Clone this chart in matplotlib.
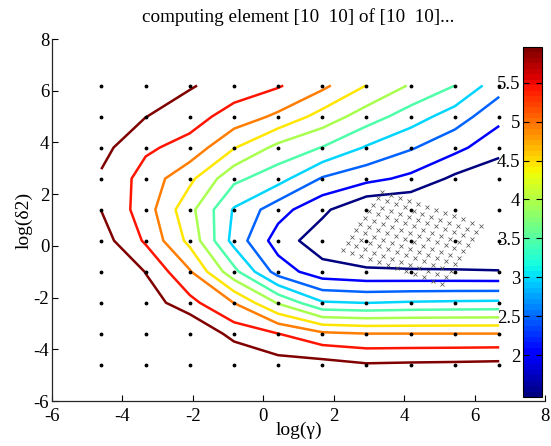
import numpy as np
import matplotlib
matplotlib.use("Agg")
import matplotlib.pyplot as plt
from matplotlib.colors import Normalize
from matplotlib.cm import ScalarMappable

plt.rcParams["font.family"] = ["Liberation Serif", "DejaVu Serif"]
plt.rcParams["axes.unicode_minus"] = False

# coarse search grid
log_gamma = [-4.6, -3.34, -2.09, -0.83, 0.42, 1.68, 2.93, 4.19, 5.44, 6.7]
log_delta2 = [-4.6, -3.4, -2.2, -1.0, 0.2, 1.4, 2.6, 3.8, 5.0, 6.2]

# error on the coarse grid, one row per log_delta2 value
cv_error = [
    [7.46, 7.21, 6.96, 6.56, 6.18, 6.16, 6.01, 6.04, 6.06, 6.09],
    [7.21, 6.71, 6.56, 5.76, 5.47, 5.06, 4.97, 4.97, 4.97, 4.97],
    [6.86, 6.26, 5.61, 4.95, 3.91, 3.01, 2.95, 3.01, 3.04, 3.06],
    [6.71, 5.94, 5.01, 3.61, 2.23, 1.66, 1.54, 1.52, 1.51, 1.49],
    [6.19, 5.39, 4.32, 2.78, 1.72, 1.17, 0.96, 0.86, 0.86, 0.81],
    [5.95, 5.20, 4.11, 2.91, 2.16, 1.57, 0.98, 0.96, 0.71, 0.71],
    [5.89, 5.26, 4.58, 3.58, 3.16, 2.41, 2.11, 1.84, 1.35, 1.16],
    [6.12, 5.54, 5.29, 4.49, 3.81, 3.44, 2.91, 2.51, 2.11, 1.61],
    [6.36, 5.97, 5.66, 5.26, 4.86, 4.26, 3.71, 3.21, 2.71, 2.11],
    [6.46, 6.26, 6.01, 5.71, 5.51, 5.08, 4.45, 3.91, 3.46, 2.66],
]

levels = [1.46, 1.96, 2.46, 2.96, 3.46, 3.96, 4.46, 4.96, 5.46, 5.96]
cbar_ticks = [2, 2.5, 3, 3.5, 4, 4.5, 5, 5.5]

# refined search: corner of the patch and its two step directions
fine_origin = (2.27, -0.15)
fine_step_a = (0.122, 0.249)
fine_step_b = (0.255, -0.119)
fine_count_a = 10
fine_count_b = 12

W, H = 551, 446
fig = plt.figure(figsize=(W / 100, H / 100), dpi=100)
ax = fig.add_axes([52 / W, 1 - 401 / H, 493 / W, 362 / H])

X, Y = np.meshgrid(log_gamma, log_delta2)
Z = np.array(cv_error)
cmap = plt.get_cmap("jet", 64)
norm = Normalize(vmin=levels[0], vmax=levels[-1])
ax.contour(X, Y, Z, levels=levels, cmap=cmap, norm=norm, linewidths=1.8)

ax.plot(X.ravel(), Y.ravel(), "k.", markersize=3.5)

ia, ib = np.meshgrid(np.arange(fine_count_a), np.arange(fine_count_b))
fx = fine_origin[0] + ia * fine_step_a[0] + ib * fine_step_b[0]
fy = fine_origin[1] + ia * fine_step_a[1] + ib * fine_step_b[1]
ax.plot(fx.ravel(), fy.ravel(), "x", color="0.3", markersize=3.2, mew=0.5)

ax.set_xlim(-6, 8)
ax.set_ylim(-6, 8)
ax.set_xticks(range(-6, 9, 2))
ax.set_yticks(range(-6, 9, 2))
ax.spines["top"].set_visible(False)
ax.spines["right"].set_visible(False)
for s in ("left", "bottom"):
    ax.spines[s].set_linewidth(0.9)
    ax.spines[s].set_color("0.15")
ax.tick_params(direction="in", length=4, labelsize=13.5, pad=2)
ax.tick_params(axis="x", pad=5)
ax.set_xlabel("log(γ)", fontsize=14, labelpad=-2)
ax.set_ylabel("log(δ2)", fontsize=14, labelpad=1)
ax.set_title("computing element [10  10] of [10  10]...", fontsize=13.8, pad=12)

cax = fig.add_axes([523 / W, 1 - 397 / H, 19 / W, 350 / H])
cb = fig.colorbar(ScalarMappable(norm=norm, cmap=cmap), cax=cax, ticks=cbar_ticks)
cb.outline.set_linewidth(0.8)
cax.yaxis.set_ticks_position("both")
cax.tick_params(direction="in", length=4, labelsize=13.5, labelleft=True,
                labelright=False, pad=2)
cax.set_yticklabels([f"{t:g}" for t in cbar_ticks])

fig.savefig("out.png", dpi=100)
